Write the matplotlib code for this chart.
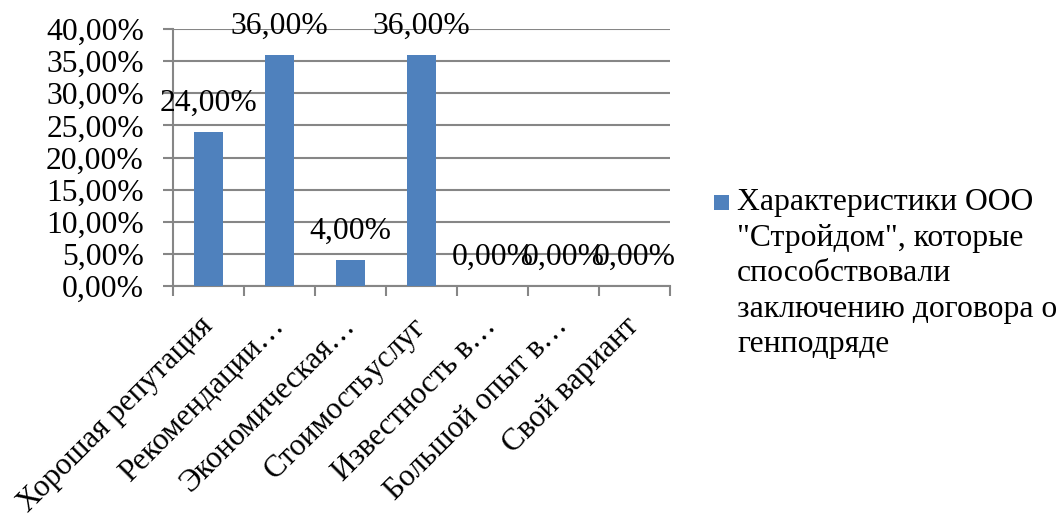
import matplotlib
matplotlib.use("Agg")
import matplotlib.pyplot as plt
from matplotlib.patches import Rectangle
from matplotlib.ticker import FixedLocator, FuncFormatter

categories = ["Хорошая репутация", "Рекомендации…", "Экономическая…",
              "Стоимостьуслуг", "Известность в…", "Большой опыт в…", "Свой вариант"]
values = [24.0, 36.0, 4.0, 36.0, 0.0, 0.0, 0.0]
yticks = [0, 5, 10, 15, 20, 25, 30, 35, 40]
legend_text = 'Характеристики ООО\n"Стройдом", которые\nспособствовали\nзаключению договора о\nгенподряде'

BAR = "#4F81BD"
GRID = "#868686"
FS = 22.8
plt.rcParams['font.family'] = ['Liberation Serif', 'DejaVu Serif']

fig = plt.figure(figsize=(10.62, 5.14), dpi=100)
W, H = 1062, 514
ax = fig.add_axes([173 / W, 1 - 286 / H, (670 - 173) / W, (286 - 29) / H])

x = list(range(len(categories)))
ax.bar(x, values, width=0.4, color=BAR, zorder=3)
ax.set_xlim(-0.5, len(categories) - 0.5)
ax.set_ylim(0, 40)

ax.yaxis.set_major_locator(FixedLocator(yticks))
ax.yaxis.set_major_formatter(FuncFormatter(lambda v, p: f"{v:.2f}%".replace(".", ",")))
ax.grid(axis='y', color=GRID, linewidth=1.5, zorder=0)
ax.set_axisbelow(True)

for s in ['top', 'right']:
    ax.spines[s].set_visible(False)
for s in ['left', 'bottom']:
    ax.spines[s].set_color(GRID)
    ax.spines[s].set_linewidth(1.5)

# category boundary ticks
ax.set_xticks([i - 0.5 for i in range(len(categories) + 1)], minor=False)
ax.set_xticklabels([])
ax.tick_params(axis='x', which='major', length=7, width=1.5, color=GRID, direction='out')
ax.set_xticks(x, minor=True)
ax.set_xticklabels(categories, minor=True, rotation=45, ha='right', va='center',
                   rotation_mode='anchor', fontsize=22.3)
ax.tick_params(axis='x', which='minor', length=0, pad=26)
ax.tick_params(axis='y', length=7, width=1.5, color=GRID, labelsize=FS, pad=14)

for xi, v in zip(x, values):
    ax.annotate(f"{v:.2f}%".replace(".", ","), (xi, v), xytext=(0, 20.5),
                textcoords='offset points', ha='center', va='center', fontsize=FS,
                zorder=5, annotation_clip=False)

# legend
fig.patches.append(Rectangle((714 / W, 1 - 210 / H), 15 / W, 15 / H,
                             transform=fig.transFigure, facecolor=BAR, edgecolor='none'))
fig.text(737 / W, 1 - 188 / H, legend_text, ha='left', va='top', fontsize=FS,
         linespacing=1.3)

fig.savefig("out.png", dpi=100)
